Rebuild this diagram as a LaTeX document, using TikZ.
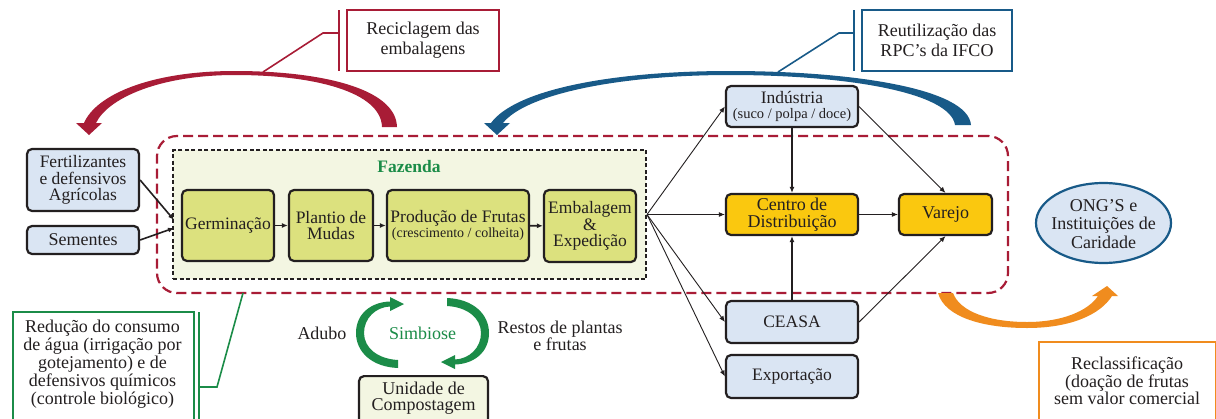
\documentclass[tikz,border=0pt]{standalone}
\usepackage{fontspec}
\setmainfont{Liberation Serif}
\usetikzlibrary{arrows.meta,shapes.geometric}
\definecolor{txt}{HTML}{231F20}
\definecolor{lblue}{HTML}{DAE5F3}
\definecolor{farm}{HTML}{DCE17E}
\definecolor{fazbg}{HTML}{F3F6E2}
\definecolor{gold}{HTML}{FAC80F}
\definecolor{myred}{HTML}{A81C36}
\definecolor{myblue}{HTML}{185A88}
\definecolor{mygreen}{HTML}{1B8C48}
\definecolor{myorange}{HTML}{F08C1E}
\newcommand\myfs[2]{\fontsize{#1}{#2}\selectfont}
\begin{document}
\begin{tikzpicture}[x=1pt,y=-1pt,
 every node/.style={text=txt, inner sep=0pt, align=center},
 box/.style={draw=txt, line width=2.2pt, rounded corners=5pt, font=\myfs{17.5}{16.7}},
 bluebox/.style={box, fill=lblue},
 farmbox/.style={box, fill=farm},
 goldbox/.style={box, fill=gold},
 conn/.style={draw=txt, line width=0.9pt, -{Latex[length=6pt,width=5pt]}},
 thickconn/.style={draw=txt, line width=1.8pt, -{Latex[length=6pt,width=5pt]}},
 callbox/.style={draw=#1, line width=2pt, fill=white},
 callline/.style={draw=#1, line width=1.6pt},
 lbl/.style={font=\myfs{18}{17.5}}
]
\useasboundingbox (0,0) rectangle (1216,418);
\fill[white] (0,0) rectangle (1216,418);

% region
\node[draw=myred, line width=2.2pt, dash pattern=on 10pt off 5pt, rounded corners=20pt,
  minimum width=851pt, minimum height=157pt] (region) at (582.5,214.5) {};
\node[draw=txt, fill=fazbg, line width=2pt, dash pattern=on 4pt off 2.5pt,
  minimum width=473pt, minimum height=129pt] (fazbox) at (409.5,214.5) {};
\node[font=\bfseries\myfs{17.5}{17.5}, text=mygreen] (fazlbl) at (409,167) {Fazenda};

% farm boxes
\node[farmbox, minimum width=92pt, minimum height=71pt] (germ) at (228,225.5) {Germinação};
\node[farmbox, minimum width=84pt, minimum height=71pt] (plant) at (331,225.5) {Plantio de\\Mudas};
\node[farmbox, minimum width=142pt, minimum height=71pt] (prod) at (458,225.5)
  {Produção de Frutas\\[-2pt]{\myfs{14}{14}(crescimento / colheita)}};
\node[farmbox, minimum width=92pt, minimum height=72pt] (emb) at (590,226) {Embalagem\\\&\\Expedição};

% inputs
\node[bluebox, minimum width=112pt, minimum height=62pt, font=\myfs{17.5}{16.5}] (fert) at (83,180)
  {Fertilizantes\\e defensivos\\Agrícolas};
\node[bluebox, minimum width=112pt, minimum height=28pt, font=\myfs{18}{16}] (sem) at (83,240) {Sementes};

% outputs
\node[bluebox, minimum width=132pt, minimum height=41pt] (ind) at (792,106.5)
  {Indústria\\[-1pt]{\myfs{14.5}{14.5}(suco / polpa / doce)}};
\node[goldbox, minimum width=132pt, minimum height=41pt, font=\myfs{18}{16.7}] (cd) at (792,214.5) {Centro de\\Distribuição};
\node[goldbox, minimum width=93pt, minimum height=41pt, font=\myfs{18}{16.7}] (var) at (945.5,214.5) {Varejo};
\node[bluebox, minimum width=132pt, minimum height=42pt] (ceasa) at (792,322) {CEASA};
\node[bluebox, minimum width=132pt, minimum height=43pt] (exp) at (792,376.5) {Exportação};
\node[ellipse, draw=myblue, line width=2.2pt, fill=lblue, minimum width=135pt, minimum height=80pt] (ong) at (1103.5,223) {};
\node[font=\myfs{18}{18.5}] (ongtxt) at (1103.5,224) {ONG’S e\\Instituições de\\Caridade};

% compost
\node[box, fill=fazbg, minimum width=129pt, minimum height=56pt, anchor=north] (comp) at (423.5,375) {};
\node[font=\myfs{18}{16.5}] (comptxt) at (423.5,398) {Unidade de\\Compostagem};

% connectors
\coordinate (fin1) at (174,220);
\coordinate (fin2) at (174,228);
\draw[conn, line width=1.6pt] (fert.east) -- (fin1);
\draw[conn, line width=1.6pt] (sem.east) -- (fin2);
\draw[thickconn, line width=1.6pt] (germ) -- (plant);
\draw[thickconn, line width=1.6pt] (plant) -- (prod);
\draw[thickconn, line width=1.6pt] (prod) -- (emb);
\draw[conn] (fazbox.east) -- (ind.west);
\draw[conn] (fazbox.east) -- (cd.west);
\draw[conn] (fazbox.east) -- (ceasa.west);
\draw[conn] (fazbox.east) -- (exp.west);
\draw[thickconn] (ind.south) -- (cd.north);
\draw[thickconn] (ceasa.north) -- (cd.south);
\draw[conn] (cd.east) -- (var.west);
\draw[conn] (ind.east) -- (var.north);
\draw[conn] (ceasa.east) -- (var.south);

% red curved arrow + callout
\fill[myred] (397,127) .. controls (396,88) and (320,71) .. (235,71)
  .. controls (150,71) and (96,95) .. (84,123) -- (76,123) -- (89,135) -- (102,123) -- (96,123)
  .. controls (108,98) and (160,75) .. (235,75) .. controls (315,75) and (381,92) .. (382,127) -- cycle;
\node[callbox=myred, minimum width=152pt, minimum height=61pt, font=\myfs{18}{20}] (rbox) at (423,40.5)
  {Reciclagem das\\embalagens};
\coordinate (rv1) at (339,10); \coordinate (rv2) at (339,71);
\coordinate (rk) at (323,33); \coordinate (rh) at (339,33); \coordinate (ra) at (263,72);
\draw[callline=myred] (rv1) -- (rv2);
\draw[callline=myred] (rh) -- (rk) -- (ra);

% blue curved arrow + callout
\fill[myblue] (971,125) .. controls (968,88) and (850,71) .. (730,71)
  .. controls (610,71) and (515,90) .. (491,123) -- (484,123) -- (497,135) -- (510,123) -- (503,123)
  .. controls (525,95) and (615,75) .. (730,75) .. controls (845,75) and (950,92) .. (955,125) -- cycle;
\node[callbox=myblue, minimum width=150pt, minimum height=61pt, font=\myfs{18}{20}] (bbox) at (937,40.5)
  {Reutilização das\\RPC’s da IFCO};
\coordinate (bv1) at (854,10); \coordinate (bv2) at (854,71);
\coordinate (bk) at (839,33); \coordinate (bh) at (854,33); \coordinate (ba) at (778,72);
\draw[callline=myblue] (bv1) -- (bv2);
\draw[callline=myblue] (bh) -- (bk) -- (ba);

% green callout
\node[callbox=mygreen, minimum width=181pt, minimum height=114pt, anchor=north west] (gbox) at (12,311) {};
\node[font=\myfs{18}{18}] (gtxt) at (102.5,364)
  {Redução do consumo\\de água (irrigação por\\gotejamento) e de\\defensivos químicos\\(controle biológico)};
\coordinate (gv1) at (199,312); \coordinate (gv2) at (199,425);
\coordinate (gh) at (199,387); \coordinate (gk) at (217,387); \coordinate (ga) at (243,293);
\draw[callline=mygreen] (gv1) -- (gv2);
\draw[callline=mygreen] (gh) -- (gk) -- (ga);

% orange arrow + box
\fill[myorange] (938,293) .. controls (945,318) and (985,328) .. (1027,328)
  .. controls (1070,328) and (1100,315) .. (1112,296) -- (1118,296) -- (1107,286) -- (1092,296) -- (1098,296)
  .. controls (1088,311) and (1062,322) .. (1027,322) .. controls (990,322) and (960,312) .. (953,293) -- cycle;
\node[callbox=myorange, minimum width=177pt, minimum height=84pt, anchor=north west] (obox) at (1038,341) {};
\node[font=\myfs{18}{17.5}] (otxt) at (1127,381)
  {Reclassificação\\(doação de frutas\\sem valor comercial};

% simbiose
\fill[mygreen] (398,368) .. controls (372,367) and (356,352) .. (356,333)
  .. controls (356,313) and (372,302) .. (390,301.5) -- (390,297) -- (404,304) -- (390,311) -- (390,306.5)
  .. controls (376,307) and (364,318) .. (364,333) .. controls (364,348) and (378,359) .. (398,360) -- cycle;
\begin{scope}[rotate around={180:(422.5,333)}]
\fill[mygreen] (398,368) .. controls (372,367) and (356,352) .. (356,333)
  .. controls (356,313) and (372,302) .. (390,301.5) -- (390,297) -- (404,304) -- (390,311) -- (390,306.5)
  .. controls (376,307) and (364,318) .. (364,333) .. controls (364,348) and (378,359) .. (398,360) -- cycle;
\end{scope}
\node[lbl, text=mygreen] (simb) at (422.5,333) {Simbiose};
\node[lbl] (adubo) at (322,333) {Adubo};
\node[lbl] (restos) at (560,336) {Restos de plantas\\e frutas};
\end{tikzpicture}
\end{document}
